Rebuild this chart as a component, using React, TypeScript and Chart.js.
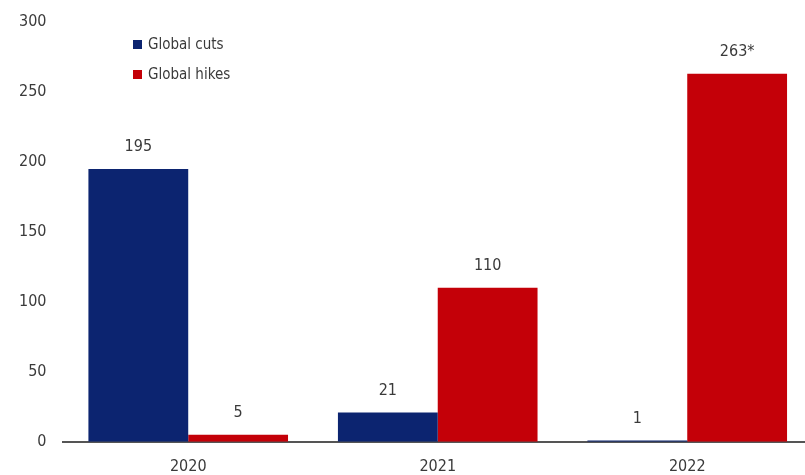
import React, { useEffect, useRef } from "react";
import { Chart, registerables } from "chart.js";

Chart.register(...registerables);

const categories = ["2020", "2021", "2022"];
const cutsValues = [195, 21, 1];
const hikesValues = [5, 110, 263];
const cutsLabels = ["195", "21", "1"];
const hikesLabels = ["5", "110", "263*"];
const seriesNames = ["Global cuts", "Global hikes"];
const navy = "#0c2470";
const red = "#c40008";
const FONT = "'Liberation Sans Narrow', 'DejaVu Sans Condensed', 'Roboto', sans-serif";

const valueLabelPlugin = {
  id: "valueLabels",
  afterDatasetsDraw(chart: any) {
    const ctx = chart.ctx;
    ctx.save();
    ctx.font = `16px ${FONT}`;
    ctx.fillStyle = "#3a3a3a";
    ctx.textAlign = "center";
    ctx.textBaseline = "bottom";
    const labelSets = [cutsLabels, hikesLabels];
    chart.data.datasets.forEach((ds: any, di: number) => {
      const meta = chart.getDatasetMeta(di);
      meta.data.forEach((el: any, i: number) => {
        ctx.fillText(labelSets[di][i], el.x, el.y - 14);
      });
    });
    ctx.restore();
  },
};

const legendPlugin = {
  id: "insideLegend",
  afterDraw(chart: any) {
    const ctx = chart.ctx;
    ctx.save();
    ctx.font = `15px ${FONT}`;
    ctx.textBaseline = "middle";
    ctx.textAlign = "left";
    chart.data.datasets.forEach((ds: any, i: number) => {
      const y = 45 + i * 30;
      ctx.fillStyle = ds.backgroundColor;
      ctx.fillRect(133, y - 5, 9, 9);
      ctx.fillStyle = "#3a3a3a";
      ctx.fillText(ds.label, 148, y);
    });
    ctx.restore();
  },
};

export default function App() {
  const ref = useRef<HTMLCanvasElement | null>(null);
  useEffect(() => {
    if (!ref.current) return;
    const chart = new Chart(ref.current, {
      type: "bar",
      data: {
        labels: categories,
        datasets: [
          { label: seriesNames[0], data: cutsValues, backgroundColor: navy },
          { label: seriesNames[1], data: hikesValues, backgroundColor: red },
        ],
      },
      options: {
        animation: false,
        responsive: true,
        maintainAspectRatio: false,
        layout: { padding: { top: 7, left: 2, right: 8, bottom: -8 } },
        datasets: { bar: { categoryPercentage: 0.8, barPercentage: 1.0 } },
        plugins: { legend: { display: false }, tooltip: { enabled: false } },
        scales: {
          x: {
            grid: { display: false },
            border: { display: true, color: "#555", width: 2 },
            ticks: { color: "#3a3a3a", font: { size: 16, family: FONT }, padding: 7 },
          },
          y: {
            min: 0,
            max: 300,
            grid: { display: false, drawTicks: false },
            border: { display: false },
            ticks: { stepSize: 50, color: "#3a3a3a", font: { size: 16, family: FONT }, padding: 17 },
            afterFit: (s: any) => {
              s.paddingTop = 22;
            },
          },
        },
      },
      plugins: [valueLabelPlugin, legendPlugin],
    });
    return () => chart.destroy();
  }, []);
  return (
    <div style={{ position: "fixed", left: 0, top: 0, width: 805, height: 475, overflow: "hidden", background: "#fff" }}>
      <div style={{ position: "relative", width: 820, height: 475 }}>
        <canvas ref={ref} />
      </div>
    </div>
  );
}
